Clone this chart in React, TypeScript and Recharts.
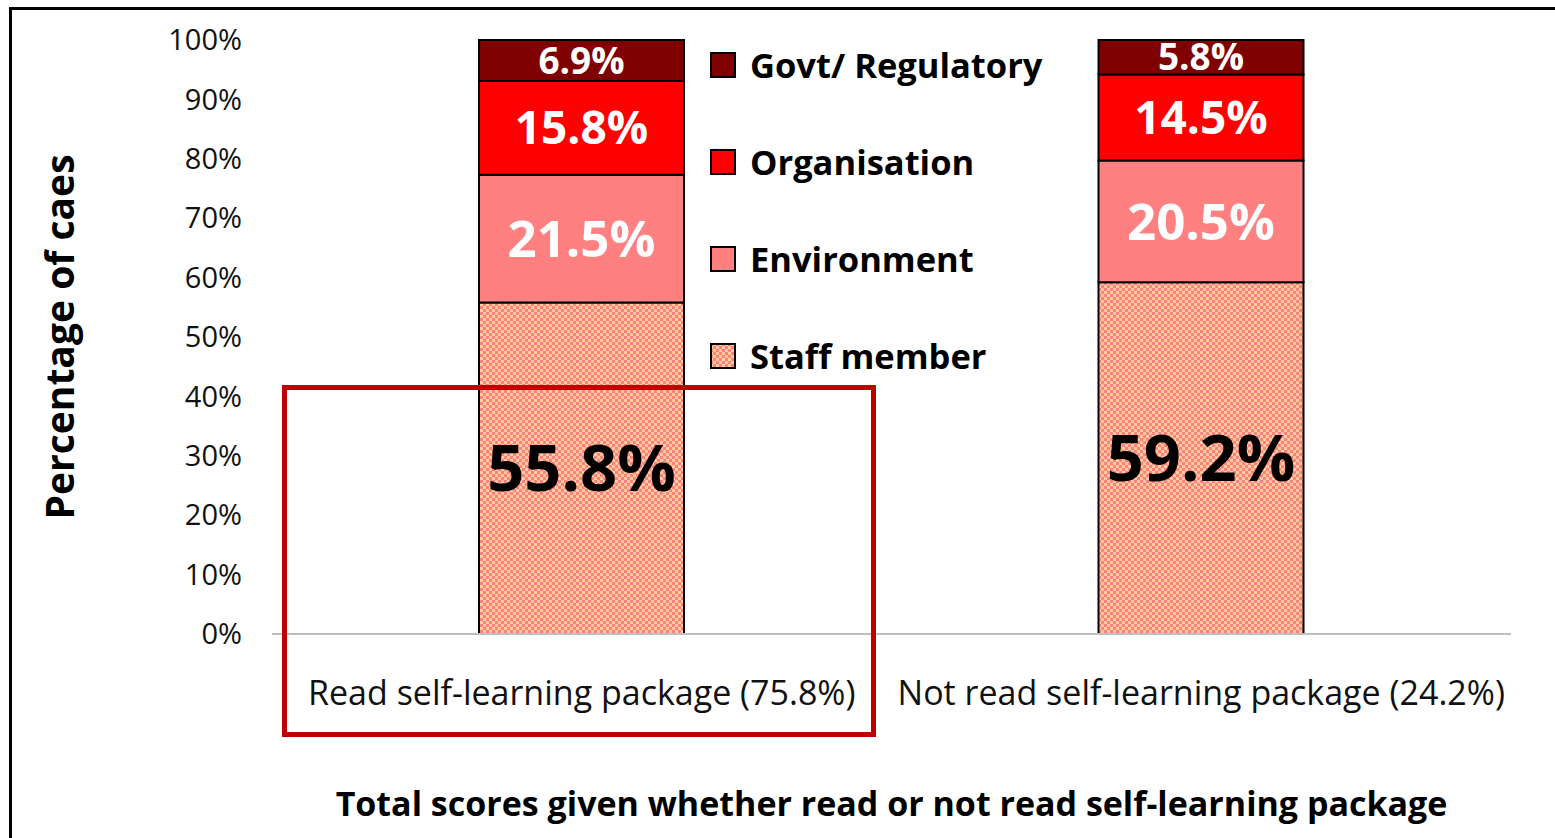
import React from 'react';
import { BarChart, Bar, XAxis, YAxis, Legend, LabelList } from 'recharts';

const categories = ['Read self-learning package (75.8%)', 'Not read self-learning package (24.2%)'];
const staffMember = [55.8, 59.2];
const environment = [21.5, 20.5];
const organisation = [15.8, 14.5];
const govtRegulatory = [6.9, 5.8];
const yTicks = [0, 10, 20, 30, 40, 50, 60, 70, 80, 90, 100];

const FONT = '"Open Sans", sans-serif';

const data = categories.map((name, i) => ({
  name,
  staff: staffMember[i],
  env: environment[i],
  org: organisation[i],
  govt: govtRegulatory[i],
}));

// legend goes top to bottom, i.e. reverse of stacking order
const series = [
  { key: 'govt', label: 'Govt/ Regulatory', fill: '#7F0000', text: '#fff', size: 37 },
  { key: 'org', label: 'Organisation', fill: '#FF0000', text: '#fff', size: 46 },
  { key: 'env', label: 'Environment', fill: '#FF8080', text: '#fff', size: 51 },
  { key: 'staff', label: 'Staff member', fill: 'url(#checker)', text: '#000', size: 65 },
];

const renderLegend = () => (
  <div style={{ fontFamily: FONT }}>
    {series.map((s) => (
      <div key={s.key} style={{ height: 97, display: 'flex', alignItems: 'center' }}>
        <svg width={26} height={26} style={{ marginRight: 14 }}>
          <rect x={1} y={1} width={24} height={24} fill={s.fill} stroke="#000" strokeWidth={2} />
        </svg>
        <span style={{ fontSize: 34.5, fontWeight: 700, color: '#000' }}>{s.label}</span>
      </div>
    ))}
  </div>
);

export default function App() {
  return (
    <div style={{ position: 'absolute', left: 0, top: 0, width: 1555, height: 838, background: '#fff', overflow: 'hidden' }}>
      <svg width={0} height={0} style={{ position: 'absolute' }}>
        <defs>
          <pattern id="checker" width={6} height={6} patternUnits="userSpaceOnUse">
            <rect width={6} height={6} fill="#FFCC99" />
            <rect width={3} height={3} fill="#FF8080" />
            <rect x={3} y={3} width={3} height={3} fill="#FF8080" />
          </pattern>
        </defs>
      </svg>
      {/* outer frame */}
      <div style={{ position: 'absolute', left: 9, top: 7, width: 1700, height: 1000, borderLeft: '3px solid #000', borderTop: '3px solid #000' }} />
      <BarChart width={1555} height={838} data={data} margin={{ top: 40, right: 44, bottom: 144, left: 0 }} barSize={205}>
        <XAxis
          dataKey="name"
          interval={0}
          tickLine={false}
          tickSize={0}
          tickMargin={47}
          height={60}
          axisLine={{ stroke: '#BFBFBF', strokeWidth: 2 }}
          tick={{ fontSize: 34, fill: '#111', fontFamily: FONT }}
          label={{
            content: ({ viewBox }: any) => (
              <text x={viewBox.x + viewBox.width / 2} y={viewBox.y + 169} textAnchor="middle" dominantBaseline="central"
                fontSize={34} fontWeight={700} fontFamily={FONT} fill="#000">
                Total scores given whether read or not read self-learning package
              </text>
            ),
          }}
        />
        <YAxis
          width={272}
          domain={[0, 100]}
          ticks={yTicks}
          tickFormatter={(v) => `${v}%`}
          axisLine={false}
          tickLine={false}
          tickSize={0}
          tickMargin={30}
          tick={{ fontSize: 29, fill: '#111', fontFamily: FONT }}
          label={{
            content: ({ viewBox }: any) => {
              const cy = viewBox.y + viewBox.height / 2;
              return (
                <text x={58} y={cy} transform={`rotate(-90 58 ${cy})`} textAnchor="middle" dominantBaseline="central"
                  fontSize={39} fontWeight={700} fontFamily={FONT} fill="#000">
                  Percentage of caes
                </text>
              );
            },
          }}
        />
        <Legend
          layout="vertical"
          align="center"
          verticalAlign="middle"
          content={renderLegend}
          wrapperStyle={{ left: 710, top: 16, width: 360 }}
        />
        {[...series].reverse().map((s) => (
          <Bar key={s.key} dataKey={s.key} stackId="a" fill={s.fill} stroke="#000" strokeWidth={2} isAnimationActive={false}>
            <LabelList dataKey={s.key} position="center" formatter={(v: any) => `${v}%`}
              fill={s.text} fontSize={s.size} fontWeight={700} fontFamily={FONT} />
          </Bar>
        ))}
      </BarChart>
      {/* highlight box */}
      <div style={{ position: 'absolute', left: 282, top: 385, width: 594, height: 352, border: '5px solid #C00000', boxSizing: 'border-box', pointerEvents: 'none' }} />
    </div>
  );
}
